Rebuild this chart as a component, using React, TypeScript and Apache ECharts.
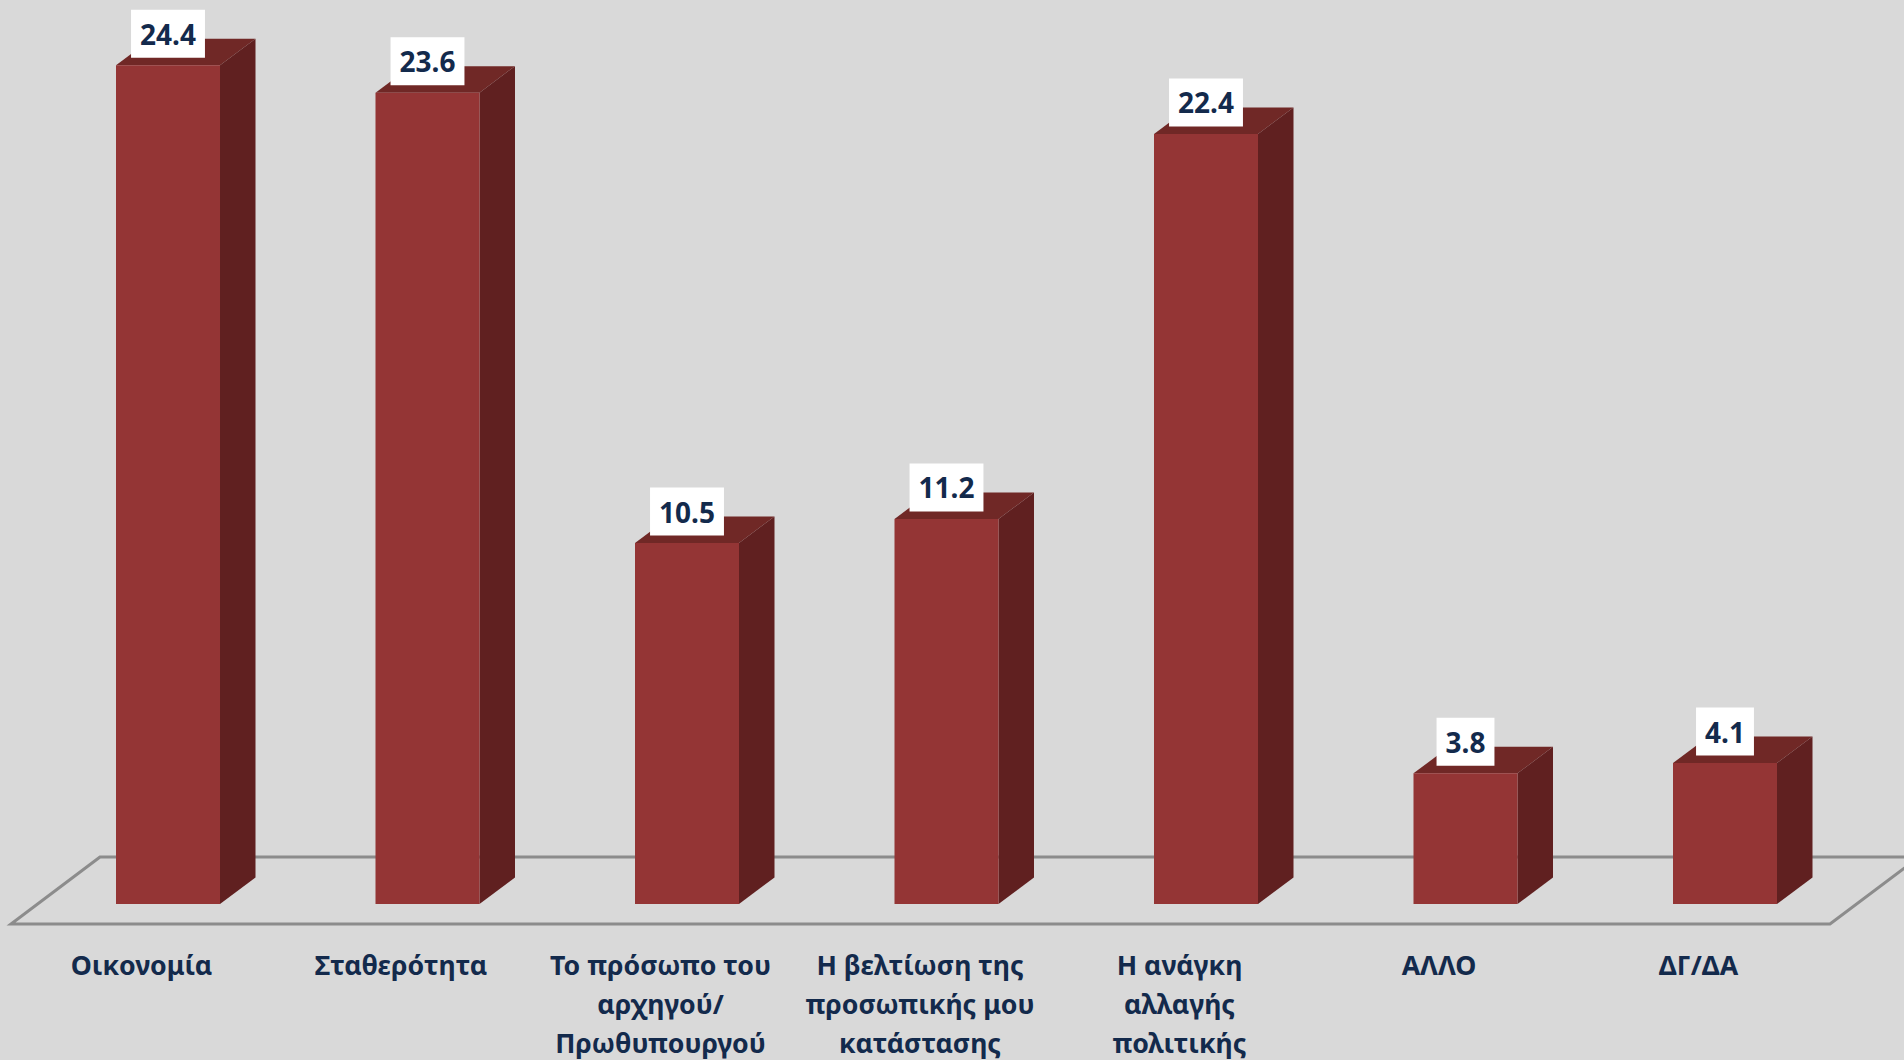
import React, { useEffect, useRef } from "react";
import * as echarts from "echarts";

const categories = [
  "Οικονομία",
  "Σταθερότητα",
  "Το πρόσωπο του\nαρχηγού/\nΠρωθυπουργού",
  "Η βελτίωση της\nπροσωπικής μου\nκατάστασης",
  "Η ανάγκη\nαλλαγής\nπολιτικής",
  "ΑΛΛΟ",
  "ΔΓ/ΔΑ",
];
const values = [24.4, 23.6, 10.5, 11.2, 22.4, 3.8, 4.1];

const BAR_W = 104;
const DX = 35.5;
const DY = 26.5;
const FRONT = "#943535";
const SIDE = "#602020";
const TOP = "#702826";
const NAVY = "#132A4C";
const FONT = '"Noto Sans", "Open Sans", sans-serif';

export default function App() {
  const ref = useRef<HTMLDivElement>(null);
  useEffect(() => {
    const chart = echarts.init(ref.current!, null, { renderer: "svg" });
    chart.setOption({
      animation: false,
      backgroundColor: "#D9D9D9",
      grid: { left: 38.25, top: 44.5, width: 1816.5, height: 859.5, outerBoundsMode: "none" },
      xAxis: {
        type: "category",
        data: categories,
        axisLine: { show: false },
        axisTick: { show: false },
        axisLabel: {
          interval: 0,
          margin: 41,
          color: NAVY,
          fontFamily: FONT,
          fontWeight: "bold",
          fontSize: 26.7,
          lineHeight: 39,
          verticalAlign: "top",
          padding: [0, 53, 0, 0],
        },
      },
      yAxis: { type: "value", min: 0, max: 25, show: false, splitLine: { show: false } },
      graphic: [
        {
          type: "polygon",
          z: 0,
          shape: { points: [[100, 857], [11, 924], [1830, 924], [1919, 857]] },
          style: { fill: "none", stroke: "#8C8C8C", lineWidth: 3 },
        },
      ],
      series: [
        {
          type: "custom",
          z: 5,
          data: values.map((v, i) => [i, v]),
          encode: { x: 0, y: 1 },
          clip: false,
          renderItem: (_p: any, api: any) => {
            const [cx, top] = api.coord([api.value(0), api.value(1)]);
            const [, bot] = api.coord([api.value(0), 0]);
            const l = cx - BAR_W / 2;
            const r = cx + BAR_W / 2;
            return {
              type: "group",
              children: [
                { type: "polygon", shape: { points: [[l, top], [r, top], [r + DX, top - DY], [l + DX, top - DY]] }, style: { fill: TOP } },
                { type: "polygon", shape: { points: [[r, top], [r + DX, top - DY], [r + DX, bot - DY], [r, bot]] }, style: { fill: SIDE } },
                { type: "rect", shape: { x: l, y: top, width: BAR_W, height: bot - top }, style: { fill: FRONT } },
                {
                  type: "text",
                  style: {
                    text: api.value(1).toFixed(1),
                    x: cx,
                    y: top - 7.5,
                    align: "center",
                    verticalAlign: "bottom",
                    fill: NAVY,
                    font: `bold 28px ${FONT}`,
                    lineHeight: 48,
                    backgroundColor: "#FFFFFF",
                    padding: [0, 9],
                  },
                },
              ],
            };
          },
        },
      ],
    });
    return () => chart.dispose();
  }, []);
  return <div ref={ref} style={{ position: "fixed", left: 0, top: 0, width: 1904, height: 1060 }} />;
}
